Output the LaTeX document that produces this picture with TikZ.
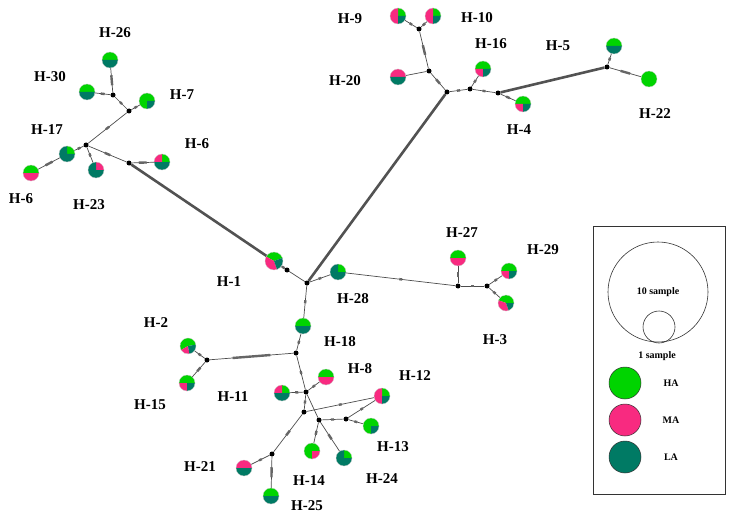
\documentclass[tikz,border=0pt]{standalone}
\usepackage{fontspec}
\setmainfont{Liberation Serif}
\usetikzlibrary{
    positioning,
    decorations.markings
}
\definecolor{hagreen}{RGB}{0,212,0}
\definecolor{mapink}{RGB}{248,42,128}
\definecolor{lateal}{RGB}{0,122,100}

% haplotipo: nombre, posicion, radio, sectores color/inicio/fin
\newcommand{\hap}[4]{%
  \node[circle, inner sep=0pt, minimum size={2*#3pt}] (#1) at (#2) {};
  \foreach \col/\sa/\ea in {#4}
    \fill[\col] (#1.center) -- ++(\sa:#3pt) arc[start angle=\sa, end angle=\ea, radius=#3pt] -- cycle;
  \draw[gray!40, line width=0.3pt] (#1.center) circle[radius=#3pt];
}

\tikzset{
    tk/.style={postaction={decorate, decoration={markings,
        mark=at position 0.5 with {\draw[line width=2.4pt, black!60] (-#1/2,0pt) -- (#1/2,0pt);}}}},
    tk/.default=5pt
}

\begin{document}
\begin{tikzpicture}[
      x=1pt, y=-1pt,
      lab/.style   ={font=\fontsize{15}{18}\selectfont\bfseries},
      mv/.style    ={circle, fill=black, inner sep=0pt, minimum size=5pt},
      lk/.style    ={line width=0.7pt, black!70},
      lkl/.style   ={line width=2.6pt, black!68},
      key/.style   ={circle, draw=black!80, line width=0.5pt, minimum size=32pt, inner sep=0pt},
      keytxt/.style={font=\fontsize{10}{12}\selectfont\bfseries}
    ]
    \useasboundingbox (0,0) rectangle (732,519);

    % --- Grupo superior izquierdo ---
    \hap{h_26}{110,60}{8}{hagreen/0/180, lateal/180/360}
    \hap{h_30}{87,92}{8}{hagreen/0/180, lateal/180/360}
    \hap{h_7}{147,101}{8}{hagreen/0/270, lateal/270/360}
    \hap{h_17}{67,154}{8}{hagreen/0/90, lateal/90/360}
    \hap{h_6a}{31,173}{8}{hagreen/0/180, mapink/180/360}
    \hap{h_23}{96,170}{8}{mapink/0/90, lateal/90/360}
    \hap{h_6b}{162,162}{8}{hagreen/0/90, mapink/90/180, lateal/180/360}

    \node[mv] (mv_a) at (113,95) {};
    \node[mv] (mv_b) at (129,111) {};
    \node[mv] (mv_c) at (86,145) {};
    \node[mv] (mv_d) at (129,163) {};

    % --- Grupo superior derecho ---
    \hap{h_9}{398,16}{8}{hagreen/0/90, mapink/90/270, lateal/270/360}
    \hap{h_10}{433,16}{8}{hagreen/0/90, mapink/90/270, lateal/270/360}
    \hap{h_20}{398,77}{8}{mapink/0/180, lateal/180/360}
    \hap{h_16}{483,69}{8}{hagreen/0/180, mapink/180/270, lateal/270/360}
    \hap{h_4}{523,104}{8}{hagreen/0/180, mapink/180/270, lateal/270/360}
    \hap{h_5}{614,46}{8}{hagreen/0/180, lateal/180/360}
    \hap{h_22}{649,79}{8}{hagreen/0/360}

    \node[mv] (mv_e) at (419,29) {};
    \node[mv] (mv_f) at (429,71) {};
    \node[mv] (mv_g) at (447,92) {};
    \node[mv] (mv_h) at (470,89) {};
    \node[mv] (mv_i) at (498,93) {};
    \node[mv] (mv_j) at (607,67) {};

    % --- Centro ---
    \hap{h_1}{274,261}{9}{hagreen/20/150, mapink/150/290, lateal/290/380}
    \hap{h_28}{338,272}{8}{hagreen/0/90, lateal/90/360}
    \hap{h_18}{303,326}{8}{hagreen/0/180, lateal/180/360}
    \hap{h_27}{458,258}{8}{hagreen/0/180, mapink/180/360}
    \hap{h_29}{509,271}{8}{hagreen/0/180, mapink/180/270, lateal/270/360}
    \hap{h_3}{506,303}{8}{hagreen/0/160, mapink/160/290, lateal/290/360}

    \node[mv] (mv_k) at (287,270) {};
    \node[mv] (mv_l) at (307,283) {};
    \node[mv] (mv_m) at (458,286) {};
    \node[mv] (mv_n) at (487,286) {};

    % --- Grupo inferior ---
    \hap{h_2}{188,346}{8}{hagreen/10/210, mapink/210/280, lateal/280/370}
    \hap{h_15}{187,383}{8}{hagreen/0/180, mapink/180/270, lateal/270/360}
    \hap{h_8}{326,377}{8}{hagreen/0/180, mapink/180/360}
    \hap{h_11}{282,393}{8}{hagreen/0/90, mapink/90/180, lateal/180/360}
    \hap{h_12}{382,396}{8}{hagreen/0/90, mapink/90/270, lateal/270/360}
    \hap{h_13}{371,426}{8}{hagreen/0/270, lateal/270/360}
    \hap{h_14}{312,451}{8}{hagreen/0/270, mapink/270/360}
    \hap{h_24}{344,458}{8}{hagreen/0/90, lateal/90/360}
    \hap{h_21}{244,468}{8}{mapink/0/180, lateal/180/360}
    \hap{h_25}{271,496}{8}{hagreen/0/180, lateal/180/360}

    \node[mv] (mv_o) at (296,353) {};
    \node[mv] (mv_p) at (207,360) {};
    \node[mv] (mv_q) at (306,392) {};
    \node[mv] (mv_r) at (304,412) {};
    \node[mv] (mv_s) at (319,420) {};
    \node[mv] (mv_t) at (346,419) {};
    \node[mv] (mv_u) at (272,454) {};

    % --- Etiquetas ---
    \node[lab] (l_26) at (115,33)  {H-26};
    \node[lab] (l_30) at (50,77)   {H-30};
    \node[lab] (l_7)  at (182,95)  {H-7};
    \node[lab] (l_17) at (47,130)  {H-17};
    \node[lab] (l_6a) at (21,199)  {H-6};
    \node[lab] (l_23) at (89,205)  {H-23};
    \node[lab] (l_6b) at (197,144) {H-6};
    \node[lab] (l_9)  at (350,19)  {H-9};
    \node[lab] (l_10) at (477,18)  {H-10};
    \node[lab] (l_20) at (345,81)  {H-20};
    \node[lab] (l_16) at (491,44)  {H-16};
    \node[lab] (l_5)  at (558,46)  {H-5};
    \node[lab] (l_4)  at (519,130) {H-4};
    \node[lab] (l_22) at (655,114) {H-22};
    \node[lab] (l_1)  at (229,282) {H-1};
    \node[lab] (l_28) at (353,299) {H-28};
    \node[lab] (l_27) at (462,233) {H-27};
    \node[lab] (l_29) at (543,250) {H-29};
    \node[lab] (l_3)  at (495,340) {H-3};
    \node[lab] (l_2)  at (156,323) {H-2};
    \node[lab] (l_18) at (340,342) {H-18};
    \node[lab] (l_15) at (150,405) {H-15};
    \node[lab] (l_11) at (233,397) {H-11};
    \node[lab] (l_8)  at (360,369) {H-8};
    \node[lab] (l_12) at (415,376) {H-12};
    \node[lab] (l_13) at (393,447) {H-13};
    \node[lab] (l_14) at (309,481) {H-14};
    \node[lab] (l_24) at (382,479) {H-24};
    \node[lab] (l_21) at (200,467) {H-21};
    \node[lab] (l_25) at (307,506) {H-25};

    % ================= RED DE HAPLOTIPOS =================

    % --- Superior izquierda ---
    \draw[lk, tk=10pt] (h_26) -- (mv_a);
    \draw[lk, tk=4pt]  (mv_a) -- (h_30);
    \draw[lk, tk=3pt]  (mv_a) -- (mv_b);
    \draw[lk, tk=3pt]  (mv_b) -- (h_7);
    \draw[lk, tk=4pt]  (mv_b) -- (mv_c);
    \draw[lk, tk=3pt]  (mv_c) -- (h_17);
    \draw[lk, tk=3pt]  (mv_c) -- (h_23);
    \draw[lk, tk=6pt]  (mv_c) -- (mv_d);
    \draw[lk, tk=8pt]  (mv_d) -- (h_6b);
    \draw[lk, tk=8pt]  (h_17) -- (h_6a);
    \draw[lkl] (mv_d) -- (h_1);

    % --- Superior derecha ---
    \draw[lk, tk=3pt]  (mv_e) -- (h_9);
    \draw[lk, tk=3pt]  (mv_e) -- (h_10);
    \draw[lk, tk=10pt] (mv_e) -- (mv_f);
    \draw[lk]          (mv_f) -- (h_20);
    \draw[lk, tk=6pt]  (mv_f) -- (mv_g);
    \draw[lk, tk=3pt]  (mv_g) -- (mv_h);
    \draw[lk, tk=3pt]  (mv_h) -- (h_16);
    \draw[lk, tk=3pt]  (mv_h) -- (mv_i);
    \draw[lk, tk=4pt]  (mv_i) -- (h_4);
    \draw[lkl] (mv_i) -- (mv_j);
    \draw[lk, tk=3pt]  (mv_j) -- (h_5);
    \draw[lk, tk=10pt] (mv_j) -- (h_22);
    \draw[lkl] (mv_g) -- (mv_l);

    % --- Centro ---
    \draw[lk, tk=3pt]  (h_1) -- (mv_k);
    \draw[lk]          (mv_k) -- (mv_l);
    \draw[lk, tk=3pt]  (mv_l) -- (h_28);
    \draw[lk, tk=3pt]  (h_28) -- (mv_m);
    \draw[lk, tk=5pt]  (mv_m) -- (h_27);
    \draw[lk, tk=3pt]  (mv_m) -- (mv_n);
    \draw[lk, tk=3pt]  (mv_n) -- (h_29);
    \draw[lk, tk=3pt]  (mv_n) -- (h_3);
    \draw[lk, tk=3pt]  (mv_l) -- (h_18);

    % --- Inferior ---
    \draw[lk, tk=3pt]  (h_18) -- (mv_o);
    \draw[lk, tk=38pt] (mv_o) -- (mv_p);
    \draw[lk, tk=3pt]  (mv_p) -- (h_2);
    \draw[lk, tk=5pt]  (mv_p) -- (h_15);
    \draw[lk, tk=3pt]  (mv_o) -- (mv_q);
    \draw[lk, tk=3pt]  (mv_q) -- (h_11);
    \draw[lk, tk=3pt]  (mv_q) -- (h_8);
    \draw[lk, tk=3pt]  (mv_q) -- (mv_r);
    \draw[lk]          (mv_q) -- (mv_s);
    \draw[lk, tk=3pt]  (mv_r) -- (h_12);
    \draw[lk, tk=6pt]  (mv_r) -- (mv_u);
    \draw[lk, tk=3pt]  (mv_u) -- (h_21);
    \draw[lk, tk=10pt] (mv_u) -- (h_25);
    \draw[lk, tk=3pt]  (mv_s) -- (mv_t);
    \draw[lk, tk=3pt]  (mv_t) -- (h_12);
    \draw[lk, tk=3pt]  (mv_t) -- (h_13);
    \draw[lk, tk=4pt]  (mv_s) -- (h_14);
    \draw[lk, tk=6pt]  (mv_s) -- (h_24);

    % --- Leyenda ---
    \node[draw=black!80, line width=0.6pt, minimum width=132pt, minimum height=268pt, inner sep=0pt] (leg) at (659,360) {};
    \node[circle, draw=black!80, line width=0.6pt, minimum size=100pt, inner sep=0pt, keytxt] (k_ten) at (658,292) {10 sample};
    \node[circle, draw=black!80, line width=0.6pt, minimum size=32pt, inner sep=0pt] (k_one) at (659,327) {};
    \node[keytxt] (k_one_t) at (657,356) {1 sample};
    \node[key, fill=hagreen] (k_ha) at (625,383) {};
    \node[key, fill=mapink]  (k_ma) at (625,420) {};
    \node[key, fill=lateal]  (k_la) at (625,457) {};
    \node[keytxt] (k_ha_t) at (671,383) {HA};
    \node[keytxt] (k_ma_t) at (671,420) {MA};
    \node[keytxt] (k_la_t) at (671,457) {LA};

  \end{tikzpicture}
\end{document}
